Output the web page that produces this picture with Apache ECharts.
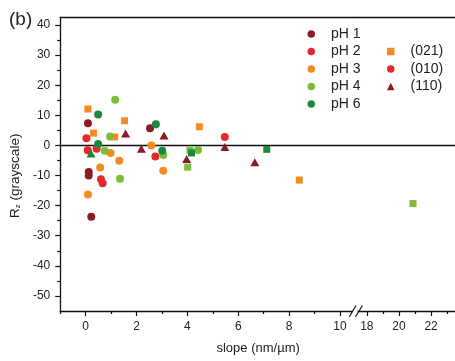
<!DOCTYPE html>
<html><head><meta charset="utf-8">
<script src="https://cdn.jsdelivr.net/npm/echarts@6/dist/echarts.min.js"></script>
<style>html,body{margin:0;padding:0;background:#fff}#c{width:455px;height:361px}</style>
</head><body><div id="c"></div>
<script>
// ---- data (slope nm/µm, Rz grayscale) ----
const pH1_010 = [[0.09,7.4],[2.53,5.75],[0.12,-8.8],[0.12,-10.0],[0.22,-23.7]];
const pH1_110 = [[1.57,4.0],[3.08,3.3],[2.19,-1.1],[3.97,-4.5],[5.47,-0.5],[6.65,-5.6]];
const pH2_010 = [[0.03,2.4],[0.08,-1.6],[0.43,-1.1],[2.74,-3.7],[0.6,-11.2],[0.67,-12.6],[5.47,2.8]];
const pH3_021 = [[0.09,12.1],[0.31,4.1],[1.53,8.2],[1.14,2.8],[4.47,6.2],[8.4,-11.5]];
const pH3_010 = [[2.58,0.0],[0.98,-2.5],[0.57,-7.3],[1.32,-5.1],[3.05,-8.4],[0.09,-16.3]];
const pH4_010 = [[1.16,15.2],[0.96,3.0],[0.75,-1.8],[3.05,-3.2],[4.42,-1.5],[1.35,-11.1]];
const pH4_021 = [[4.01,-7.2],[4.10,-1.6],[20.87,-19.3]];
const pH6_010 = [[0.49,10.3],[2.76,7.0],[0.49,0.5],[3.01,-1.8]];
const pH6_021 = [[4.16,-2.5],[7.12,-1.3]];
const pH6_110 = [[0.21,-2.7]];

const phNames = ['pH 1','pH 2','pH 3','pH 4','pH 6'];
const faceNames = ['(021)','(010)','(110)'];
const xMajorLeft = [0,2,4,6,8,10];
const xMinorLeft = [-1,1,3,5,7,9];
const xMajorRight = [18,20,22];
const xMinorRight = [19,21,23];
const yMajor = [-50,-40,-30,-20,-10,0,10,20,30,40];
const yMinor = [-45,-35,-25,-15,-5,5,15,25,35];

const COL = {'pH 1':'#8c1c24','pH 2':'#e5282c','pH 3':'#f38b22','pH 4':'#7bbd3a','pH 6':'#178b3b'};
const SYM = {'(021)':'rect','(010)':'circle','(110)':'triangle'};
const SIZE = {'rect':7,'circle':8,'triangle':[9,8]};

const groups = [
  ['pH 1','(010)',pH1_010],['pH 1','(110)',pH1_110],
  ['pH 2','(010)',pH2_010],
  ['pH 3','(021)',pH3_021],['pH 3','(010)',pH3_010],
  ['pH 4','(010)',pH4_010],['pH 4','(021)',pH4_021],
  ['pH 6','(010)',pH6_010],['pH 6','(021)',pH6_021],['pH 6','(110)',pH6_110]
];

const FONT = 'Liberation Sans, Arial, sans-serif';
const XL = {min:-1, max:10.55};
const XR = {min:17.2, max:23.486};
const YR = {min:-55, max:42.5};
const AX = {onZero:false, lineStyle:{color:'#111', width:1.3}};
const NOLINE = {show:false, onZero:false};

const series = [];
groups.forEach(([ph, face, arr]) => {
  const sym = SYM[face];
  const left = arr.filter(p => p[0] < 12);
  const right = arr.filter(p => p[0] >= 12);
  const base = {type:'scatter', name:ph, symbol:sym, symbolSize:SIZE[sym],
    itemStyle:{color:COL[ph], opacity:1}, emphasis:{disabled:true}, z:5};
  if (left.length) series.push(Object.assign({}, base, {xAxisIndex:0, yAxisIndex:0, data:left}));
  if (right.length) series.push(Object.assign({}, base, {xAxisIndex:1, yAxisIndex:1, data:right}));
});
// zero lines
series.push({type:'scatter', xAxisIndex:0, yAxisIndex:0, data:[], silent:true,
  markLine:{symbol:'none', silent:true, label:{show:false}, lineStyle:{color:'#111', width:1.3, type:'solid'}, data:[{yAxis:0}]}});
series.push({type:'scatter', xAxisIndex:1, yAxisIndex:1, data:[], silent:true,
  markLine:{symbol:'none', silent:true, label:{show:false}, lineStyle:{color:'#111', width:1.3, type:'solid'}, data:[{yAxis:0}]}});
// legend-only series for facets
series.push({type:'scatter', name:'(021)', symbol:'rect', itemStyle:{color:COL['pH 3'], opacity:1}, data:[]});
series.push({type:'scatter', name:'(010)', symbol:'circle', itemStyle:{color:COL['pH 2'], opacity:1}, data:[]});
series.push({type:'scatter', name:'(110)', symbol:'triangle', itemStyle:{color:COL['pH 1'], opacity:1}, data:[]});

const hiddenLabel = {show:false};
const option = {
  animation:false,
  backgroundColor:'#fff',
  textStyle:{fontFamily:FONT},
  title:{text:'(b)', left:4, top:5, textStyle:{fontSize:19, fontWeight:'normal', color:'#222', fontFamily:FONT}},
  grid:[
    {left:57, top:17.5, bottom:50, width:297},
    {left:354, top:17.5, bottom:50, width:110}
  ],
  legend:[
    {orient:'vertical', left:307.5, top:27, padding:0, itemGap:3.5, itemWidth:7.5, itemHeight:7.5,
     selectedMode:false, icon:'circle', itemStyle:{opacity:1, borderWidth:0},
     textStyle:{fontSize:14, lineHeight:14, color:'#222', fontFamily:FONT, padding:[0,0,0,11]},
     data:phNames.map(n => ({name:n, icon:'circle'}))},
    {orient:'vertical', left:387, top:44.5, padding:0, itemGap:3.5, itemWidth:7.5, itemHeight:7.5,
     selectedMode:false, itemStyle:{opacity:1, borderWidth:0},
     textStyle:{fontSize:14, lineHeight:14, color:'#222', fontFamily:FONT, padding:[0,0,0,11]},
     data:faceNames.map(n => ({name:n, icon:SYM[n]}))}
  ],
  xAxis:[
    {gridIndex:0, type:'value', min:XL.min, max:XL.max, position:'bottom',
     axisLine:AX, splitLine:{show:false},
     axisTick:{show:true, length:5, customValues:xMajorLeft, lineStyle:{color:'#111', width:1.2}},
     axisLabel:{customValues:xMajorLeft, margin:10, fontSize:12, color:'#222', fontFamily:FONT},
     name:'slope (nm/µm)', nameLocation:'middle', nameGap:31,
     nameTextStyle:{fontSize:13, color:'#222', fontFamily:FONT, padding:[0,0,0,102]}},
    {gridIndex:1, type:'value', min:XR.min, max:XR.max, position:'bottom',
     axisLine:AX, splitLine:{show:false},
     axisTick:{show:true, length:5, customValues:xMajorRight, lineStyle:{color:'#111', width:1.2}},
     axisLabel:{customValues:xMajorRight, margin:10, fontSize:12, color:'#222', fontFamily:FONT}},
    {gridIndex:0, type:'value', min:XL.min, max:XL.max, position:'bottom',
     axisLine:NOLINE, splitLine:{show:false}, axisLabel:hiddenLabel,
     axisTick:{show:true, length:3, customValues:xMinorLeft, lineStyle:{color:'#111', width:1.2}}},
    {gridIndex:1, type:'value', min:XR.min, max:XR.max, position:'bottom',
     axisLine:NOLINE, splitLine:{show:false}, axisLabel:hiddenLabel,
     axisTick:{show:true, length:3, customValues:xMinorRight, lineStyle:{color:'#111', width:1.2}}},
    {gridIndex:0, type:'value', min:XL.min, max:XL.max, position:'top',
     axisLine:AX, splitLine:{show:false}, axisLabel:hiddenLabel, axisTick:{show:false}},
    {gridIndex:1, type:'value', min:XR.min, max:XR.max, position:'top',
     axisLine:AX, splitLine:{show:false}, axisLabel:hiddenLabel, axisTick:{show:false}}
  ],
  yAxis:[
    {gridIndex:0, type:'value', min:YR.min, max:YR.max, position:'left',
     axisLine:AX, splitLine:{show:false},
     axisTick:{show:true, length:5, customValues:yMajor, lineStyle:{color:'#111', width:1.2}},
     axisLabel:{customValues:yMajor, margin:10, fontSize:12, color:'#222', fontFamily:FONT},
     name:'{r|R}{s|z}{r| (grayscale)}', nameLocation:'middle', nameGap:31,
     nameTextStyle:{color:'#222', fontFamily:FONT, padding:[0,23,0,0],
       rich:{r:{fontSize:13.5, color:'#222', fontFamily:FONT},
             s:{fontSize:8, color:'#222', fontFamily:FONT, verticalAlign:'bottom', padding:[6,0,0,0]}}}},
    {gridIndex:1, type:'value', min:YR.min, max:YR.max, show:false, axisLine:{onZero:false}},
    {gridIndex:0, type:'value', min:YR.min, max:YR.max, position:'left',
     axisLine:NOLINE, splitLine:{show:false}, axisLabel:hiddenLabel,
     axisTick:{show:true, length:3, customValues:yMinor, lineStyle:{color:'#111', width:1.2}}}
  ],
  graphic:[
    {type:'rect', z:100, shape:{x:352.5, y:306, width:5, height:10}, style:{fill:'#fff'}},
    {type:'line', z:101, shape:{x1:349.3, y1:316.7, x2:356, y2:305.5}, style:{stroke:'#111', lineWidth:1.2}},
    {type:'line', z:101, shape:{x1:355.5, y1:316.7, x2:362.5, y2:305.5}, style:{stroke:'#111', lineWidth:1.2}}
  ],
  series:series
};
const chart = echarts.init(document.getElementById('c'), null, {renderer:'canvas'});
chart.setOption(option);
</script>
</body></html>
